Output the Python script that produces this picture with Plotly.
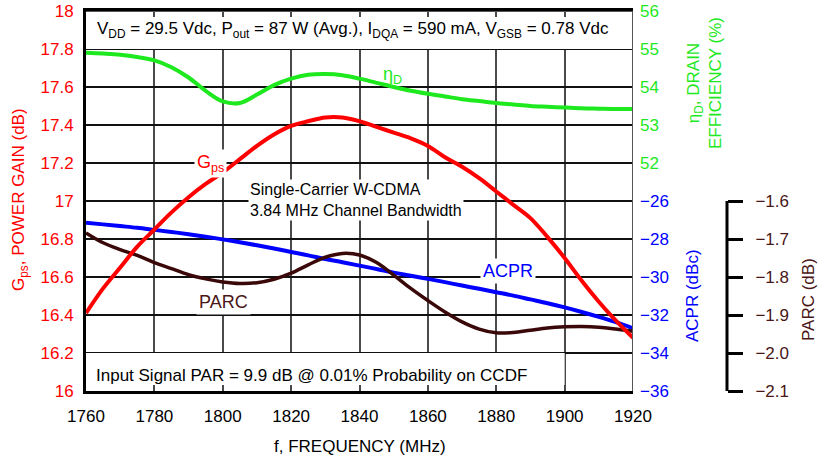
import plotly.graph_objects as go

# Frequency sweep (MHz)
freq = [1760, 1765, 1770, 1775, 1780, 1785, 1790, 1795, 1800, 1805, 1810, 1815,
        1820, 1825, 1830, 1835, 1840, 1845, 1850, 1855, 1860, 1865, 1870, 1875,
        1880, 1885, 1890, 1895, 1900, 1905, 1910, 1915, 1920]

# Power gain Gps (dB)
gain = [16.41, 16.54, 16.65, 16.76, 16.85, 16.94, 17.02, 17.09, 17.15, 17.22,
        17.29, 17.35, 17.395, 17.42, 17.44, 17.44, 17.42, 17.39, 17.36, 17.33,
        17.29, 17.23, 17.18, 17.12, 17.05, 16.98, 16.91, 16.81, 16.70, 16.58,
        16.47, 16.37, 16.28]

# Drain efficiency (%)
eff = [54.90, 54.88, 54.85, 54.79, 54.70, 54.52, 54.25, 53.90, 53.62, 53.58,
       53.80, 54.05, 54.22, 54.32, 54.34, 54.31, 54.22, 54.11, 54.00, 53.90,
       53.82, 53.75, 53.68, 53.63, 53.58, 53.54, 53.50, 53.48, 53.46, 53.44,
       53.43, 53.42, 53.42]

# ACPR (dBc)
acpr = [-27.15, -27.23, -27.32, -27.41, -27.52, -27.63, -27.75, -27.88, -28.02,
        -28.17, -28.33, -28.50, -28.68, -28.86, -29.05, -29.22, -29.40, -29.58,
        -29.77, -29.93, -30.10, -30.27, -30.45, -30.62, -30.80, -30.98, -31.18,
        -31.38, -31.60, -31.84, -32.10, -32.38, -32.70]

# PARC (dB)
parc = [-1.684, -1.710, -1.728, -1.743, -1.762, -1.778, -1.794, -1.805, -1.813,
        -1.817, -1.815, -1.806, -1.790, -1.768, -1.748, -1.738, -1.742, -1.762,
        -1.795, -1.830, -1.862, -1.892, -1.918, -1.937, -1.947, -1.946, -1.940,
        -1.934, -1.931, -1.930, -1.932, -1.937, -1.943]

x_ticks = [1760, 1780, 1800, 1820, 1840, 1860, 1880, 1900, 1920]
eff_ticks = [52, 53, 54, 55, 56]
acpr_ticks = [-36, -34, -32, -30, -28, -26]
parc_ticks = [-2.1, -2.0, -1.9, -1.8, -1.7, -1.6]

RED = "#ff0000"
GREEN = "#1ee81e"
BLUE = "#0000ff"
BROWN = "#3a0808"
BROWN_TXT = "#4a1616"
FONT = "Liberation Sans, Arial, sans-serif"
FS = 17

# Plot area geometry (pixels)
L, R, T, B = 86, 10, 11, 75
W, H = 821, 466
PW = W - L - R
PH = H - T - B
x_dom = 547 / PW
parc_pos = (727 - L) / PW


def px(xp):
    return (xp - L) / PW


def py(yp):
    return (H - B - yp) / PH


fig = go.Figure()

fig.add_trace(go.Scatter(x=freq, y=eff, yaxis="y2", mode="lines",
                         line=dict(color=GREEN, width=4, shape="spline")))
fig.add_trace(go.Scatter(x=freq, y=acpr, yaxis="y3", mode="lines",
                         line=dict(color=BLUE, width=4, shape="spline")))
fig.add_trace(go.Scatter(x=freq, y=parc, yaxis="y4", mode="lines",
                         line=dict(color=BROWN, width=3.5, shape="spline")))
fig.add_trace(go.Scatter(x=freq, y=gain, yaxis="y5", mode="lines",
                         line=dict(color=RED, width=4, shape="spline")))

fig.update_layout(
    width=W, height=H,
    margin=dict(l=L, r=R, t=T, b=B, autoexpand=False),
    paper_bgcolor="white", plot_bgcolor="white",
    showlegend=False,
    font=dict(family=FONT, size=FS, color="black"),
    xaxis=dict(domain=[0, x_dom], range=[1760, 1920], tickvals=x_ticks,
               showgrid=True, gridcolor="#4a4a4a", gridwidth=1.6,
               showline=True, linecolor="black", linewidth=3,
               ticks="inside", ticklen=6, tickwidth=1.6, tickcolor="#4a4a4a",
               mirror="ticks", zeroline=False, automargin=False,
               tickfont=dict(family=FONT, size=FS, color="black"),
               ticklabelstandoff=8),
    yaxis=dict(range=[16, 18], dtick=0.2, tick0=16,
               showgrid=True, gridcolor="#111111", gridwidth=1.6,
               showline=True, linecolor="black", linewidth=3,
               ticks="", zeroline=False, automargin=False,
               tickfont=dict(family=FONT, size=FS, color=RED),
               ticklabelstandoff=6),
    yaxis2=dict(overlaying="y", side="right", anchor="x", range=[46, 56],
                tickvals=eff_ticks, showgrid=False, zeroline=False,
                showline=False, ticks="", automargin=False,
                tickfont=dict(family=FONT, size=FS, color=GREEN),
                ticklabelstandoff=6),
    yaxis3=dict(overlaying="y", side="right", anchor="x", range=[-36, -16],
                tickvals=acpr_ticks,
                ticktext=["\u2212" + str(abs(v)) for v in acpr_ticks],
                showgrid=False, zeroline=False, showline=False, ticks="",
                automargin=False,
                tickfont=dict(family=FONT, size=FS, color=BLUE),
                ticklabelstandoff=6),
    yaxis4=dict(overlaying="y", side="right", anchor="free",
                position=parc_pos, range=[-2.1, -1.1],
                tickvals=parc_ticks,
                ticktext=["\u2212" + f"{abs(v):.1f}" for v in parc_ticks],
                showgrid=False, zeroline=False, showline=False,
                ticks="outside", ticklen=15, tickwidth=2.5, tickcolor="black",
                automargin=False,
                tickfont=dict(family=FONT, size=FS, color=BROWN_TXT),
                ticklabelstandoff=9),
    yaxis5=dict(overlaying="y", range=[16, 18], visible=False),
)

# Top and right frame edges
fig.add_shape(type="line", xref="x", yref="y", x0=1760, x1=1920, y0=18, y1=18,
              line=dict(color="#555555", width=2), layer="above")
fig.add_shape(type="line", xref="x", yref="y", x0=1920, x1=1920, y0=16, y1=18,
              line=dict(color="#555555", width=2), layer="above")

# White condition boxes over the grid
fig.add_shape(type="rect", xref="x", yref="y", x0=1760, x1=1920, y0=17.8, y1=18,
              fillcolor="white", line=dict(width=0), layer="between")
fig.add_shape(type="rect", xref="x", yref="y", x0=1760, x1=1900, y0=16, y1=16.2,
              fillcolor="white", line=dict(width=0), layer="between")

# PARC axis spine, only over the labelled span
fig.add_shape(type="line", xref="paper", yref="y4",
              x0=parc_pos, x1=parc_pos, y0=-2.1, y1=-1.6,
              line=dict(color="black", width=3), layer="above")

ann = []
ann.append(dict(x=1762.5, y=17.9, xref="x", yref="y", xanchor="left", yanchor="middle",
                text="V<sub>DD</sub> = 29.5 Vdc, P<sub>out</sub> = 87 W (Avg.), "
                     "I<sub>DQA</sub> = 590 mA, V<sub>GSB</sub> = 0.78 Vdc",
                showarrow=False, font=dict(size=FS, color="black")))
ann.append(dict(x=1762.3, y=16.08, xref="x", yref="y", xanchor="left", yanchor="middle",
                text="Input Signal PAR = 9.9 dB @ 0.01% Probability on CCDF",
                showarrow=False, font=dict(size=FS, color="black")))
ann.append(dict(x=1807.5, y=17.005, xref="x", yref="y", xanchor="left", yanchor="middle",
                text="Single-Carrier W-CDMA<br>3.84 MHz Channel Bandwidth", align="left",
                showarrow=False, bgcolor="white", borderpad=1,
                font=dict(size=16, color="black")))
ann.append(dict(x=1796.5, y=17.2, xref="x", yref="y", xanchor="center", yanchor="middle",
                text="G<sub>ps</sub>", showarrow=False, bgcolor="white", borderpad=2,
                font=dict(size=FS + 1, color=RED)))
ann.append(dict(x=1849.7, y=17.66, xref="x", yref="y", xanchor="center", yanchor="middle",
                text="\u03b7<sub>D</sub>", showarrow=False,
                font=dict(size=FS + 1, color=GREEN)))
ann.append(dict(x=1883.4, y=16.632, xref="x", yref="y", xanchor="center", yanchor="middle",
                text="ACPR", showarrow=False, bgcolor="white", borderpad=2,
                font=dict(size=FS + 1, color=BLUE)))
ann.append(dict(x=1800.1, y=16.47, xref="x", yref="y", xanchor="center", yanchor="middle",
                text="PARC", showarrow=False, bgcolor="white", borderpad=2,
                font=dict(size=FS + 1, color=BROWN_TXT)))

# Axis titles
ann.append(dict(x=px(20), y=py(200), xref="paper", yref="paper",
                xanchor="center", yanchor="middle", textangle=-90,
                text="G<sub>ps</sub>, POWER GAIN (dB)", showarrow=False,
                font=dict(size=FS, color=RED)))
ann.append(dict(x=px(704), y=py(83), xref="paper", yref="paper",
                xanchor="center", yanchor="middle", textangle=-90,
                text="\u03b7<sub>D</sub>, DRAIN<br>EFFICIENCY (%)", showarrow=False,
                font=dict(size=FS, color=GREEN)))
ann.append(dict(x=px(692), y=py(296), xref="paper", yref="paper",
                xanchor="center", yanchor="middle", textangle=-90,
                text="ACPR (dBc)", showarrow=False,
                font=dict(size=FS, color=BLUE)))
ann.append(dict(x=px(808), y=py(300), xref="paper", yref="paper",
                xanchor="center", yanchor="middle", textangle=-90,
                text="PARC (dB)", showarrow=False,
                font=dict(size=FS, color=BROWN_TXT)))
ann.append(dict(x=px(360), y=py(446), xref="paper", yref="paper",
                xanchor="center", yanchor="middle",
                text="f, FREQUENCY (MHz)", showarrow=False,
                font=dict(size=FS, color="black")))

fig.update_layout(annotations=ann)

fig.write_html("out.html")
